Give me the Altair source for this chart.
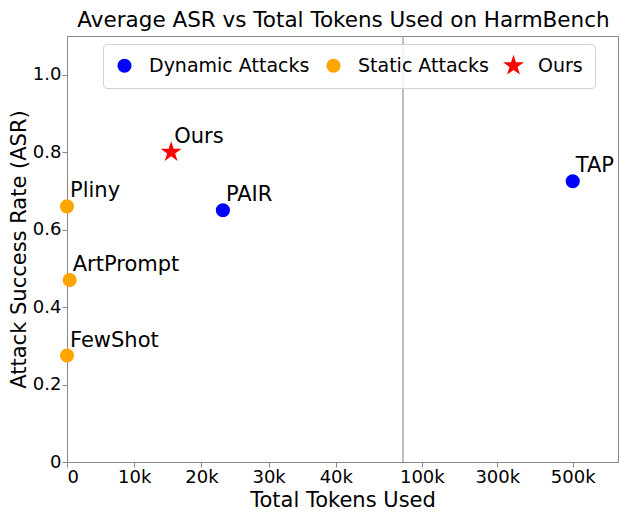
import altair as alt
import pandas as pd

names = ["Ours", "PAIR", "TAP", "Pliny", "ArtPrompt", "FewShot"]
tokens = [15500, 23200, 500000, 0, 400, 0]
asr = [0.80, 0.65, 0.725, 0.66, 0.47, 0.275]
groups = ["Ours", "Dynamic Attacks", "Dynamic Attacks", "Static Attacks", "Static Attacks", "Static Attacks"]
legend_order = ["Dynamic Attacks", "Static Attacks", "Ours"]
colors = ["blue", "orange", "red"]
STAR = ("M0,-1.55L0.349,-0.479L1.474,-0.479L0.563,0.183L0.911,1.254L0,0.592"
        "L-0.911,1.254L-0.563,0.183L-1.474,-0.479L-0.349,-0.479Z")
shapes = ["circle", "circle", STAR]
x_ticks = [0, 10000, 20000, 30000, 40000, 100000, 300000, 500000]
y_ticks = [0, 0.2, 0.4, 0.6, 0.8, 1.0]
break_at = [50000]

df = pd.DataFrame({"name": names, "tokens": tokens, "asr": asr, "group": groups})
brk = pd.DataFrame({"x": break_at})

FONT = "DejaVu Sans"
W, H = 551, 426

xscale = alt.Scale(domain=[0, 50000, 620000], range=[0, 336, W], nice=False, zero=False)
yscale = alt.Scale(domain=[0, 1.1], nice=False)

xaxis = alt.Axis(values=x_ticks, title="Total Tokens Used",
                 labelExpr="datum.value == 0 ? '0' : format(datum.value/1000, 'd') + 'k'",
                 labelFontSize=18, titleFontSize=21, labelFont=FONT, titleFont=FONT,
                 titleFontWeight="normal", labelColor="black", titleColor="black",
                 domainColor="#888", tickColor="#888", tickSize=5, grid=False,
                 labelPadding=1, titlePadding=3)
yaxis = alt.Axis(values=y_ticks, title="Attack Success Rate (ASR)",
                 labelExpr="datum.value == 0 ? '0' : format(datum.value, '.1f')",
                 labelFontSize=18, titleFontSize=21, labelFont=FONT, titleFont=FONT,
                 titleFontWeight="normal", labelColor="black", titleColor="black",
                 domainColor="#888", tickColor="#888", tickSize=5, grid=False,
                 labelPadding=1, titlePadding=3)

vline = alt.Chart(brk).mark_rule(color="#aaaaaa", strokeWidth=1.5).encode(
    x=alt.X("x:Q", scale=xscale, axis=xaxis)
)

points = alt.Chart(df).mark_point(filled=True, opacity=1).encode(
    x=alt.X("tokens:Q", scale=xscale, axis=xaxis),
    y=alt.Y("asr:Q", scale=yscale, axis=yaxis),
    color=alt.Color("group:N", scale=alt.Scale(domain=legend_order, range=colors),
                    legend=alt.Legend(title=None, orient="none", legendX=36, legendY=8,
                                      direction="horizontal", labelFontSize=19, labelFont=FONT,
                                      labelColor="black", symbolSize=230, labelOffset=15,
                                      labelLimit=300, columnPadding=14, padding=12,
                                      fillColor="rgba(255,255,255,0.8)", strokeColor="#d0d0d0",
                                      cornerRadius=4)),
    shape=alt.Shape("group:N", scale=alt.Scale(domain=legend_order, range=shapes)),
    size=alt.Size("group:N", scale=alt.Scale(domain=legend_order, range=[200, 200, 200]), legend=None),
)

labels = alt.Chart(df).mark_text(align="left", baseline="middle", dx=3, dy=-15,
                                 fontSize=21, font=FONT, color="black").encode(
    x=alt.X("tokens:Q", scale=xscale, axis=xaxis),
    y=alt.Y("asr:Q", scale=yscale, axis=yaxis),
    text="name:N",
)

chart = alt.layer(vline, points, labels).properties(
    width=W, height=H,
    title=alt.Title("Average ASR vs Total Tokens Used on HarmBench", fontSize=21.5, font=FONT,
                    fontWeight="normal", color="black", anchor="middle", offset=4, dx=1),
    autosize=alt.AutoSizeParams(type="none"),
    padding={"left": 59, "top": 28, "right": 1, "bottom": 49},
).configure_view(stroke="#888", strokeWidth=1)

chart.save("out.html", embed_options={"renderer": "svg", "actions": False})
